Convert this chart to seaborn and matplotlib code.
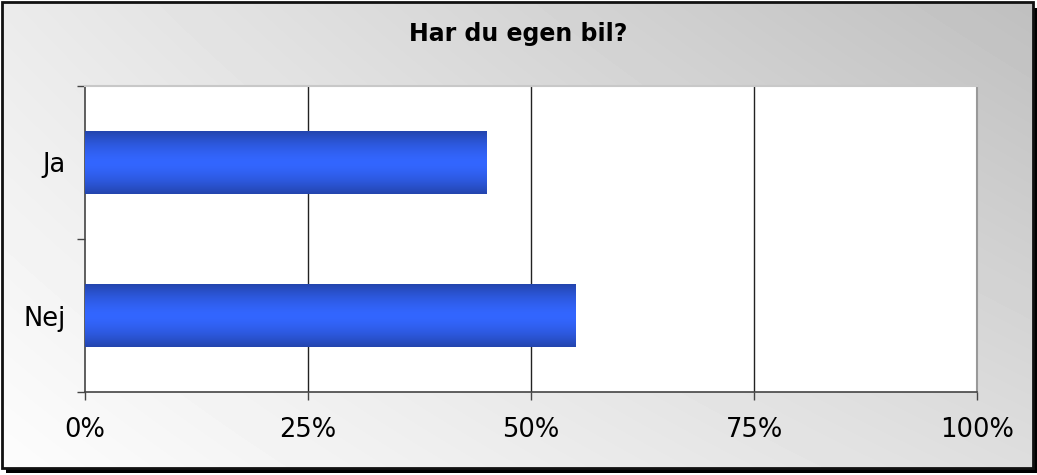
import numpy as np
import pandas as pd
import matplotlib
matplotlib.use("Agg")
import matplotlib.pyplot as plt
from matplotlib.patches import Rectangle
from matplotlib.ticker import FuncFormatter
import seaborn as sns

# Data
categories = ['Ja', 'Nej']
shares = [45, 55]  # percent
title = 'Har du egen bil?'

df = pd.DataFrame({'svar': categories, 'andel': shares})

sns.set_style('white')
plt.rcParams['font.family'] = ['DejaVu Sans']
plt.rcParams['text.color'] = 'black'

W, H = 1037, 475
fig = plt.figure(figsize=(W / 100, H / 100), dpi=100)
fig.patch.set_facecolor('white')

# Background: frame with diagonal gray gradient and drop shadow (pixel coords)
bg = fig.add_axes([0, 0, 1, 1], zorder=0)
bg.set_xlim(0, W)
bg.set_ylim(H, 0)
bg.axis('off')

x0, y0, x1, y1 = 2, 2, 1033, 468
# shadow
bg.add_patch(Rectangle((x1, y0 + 6), 4, y1 - y0 - 1, color='black', lw=0))
bg.add_patch(Rectangle((x0 + 4, y1), x1 - x0, 5, color='black', lw=0))
# gradient: bilinear between four corners
tl, tr, bl, br = 0.92, 0.75, 0.99, 0.87
u = np.linspace(0, 1, 300)
v = np.linspace(0, 1, 150)
U, V = np.meshgrid(u, v)
grad = (1 - V) * ((1 - U) * tl + U * tr) + V * ((1 - U) * bl + U * br)
bg.imshow(grad, cmap='gray', vmin=0, vmax=1, extent=(x0, x1, y1, y0),
          aspect='auto', interpolation='bilinear', zorder=1)
bg.add_patch(Rectangle((x0, y0), x1 - x0, y1 - y0, fill=False,
                       edgecolor='#111111', lw=2, zorder=2))

# Plot area
ax = fig.add_axes([85 / W, (H - 392) / H, 892 / W, 306 / H], zorder=2)
ax.set_facecolor('white')
sns.barplot(data=df, x='andel', y='svar', ax=ax, color='#3366ff',
            width=0.41, orient='h')

# Gradient fill on each bar
dark = np.array([0.14, 0.27, 0.68])
bright = np.array([0.20, 0.40, 1.00])
t = np.abs(np.linspace(-1, 1, 128))
prof = t ** 1.6
cols = bright[None, :] + (dark - bright)[None, :] * prof[:, None]
img = cols[:, None, :]
for p in ax.patches:
    bx, by = p.get_x(), p.get_y()
    bw, bh = p.get_width(), p.get_height()
    p.set_alpha(0)
    ax.imshow(img, extent=(bx, bx + bw, by + bh, by), aspect='auto',
              interpolation='bilinear', zorder=3)

ax.set_xlim(0, 100)
ax.set_ylim(1.5, -0.5)
ax.set_xticks([0, 25, 50, 75, 100])
ax.xaxis.set_major_formatter(FuncFormatter(lambda v, _: f'{v:.0f}%'))
ax.set_yticks([0, 1])
ax.set_yticks([-0.5, 0.5, 1.5], minor=True)
ax.set_xlabel('')
ax.set_ylabel('')

for xv in [25, 50, 75]:
    ax.axvline(xv, color='#222222', lw=1, zorder=2)

for side in ['left', 'bottom']:
    ax.spines[side].set_color('#444444')
    ax.spines[side].set_linewidth(1.2)
ax.spines['top'].set_color('#c8c8c8')
ax.spines['top'].set_linewidth(1.5)
ax.spines['right'].set_color('#999999')
ax.spines['right'].set_linewidth(1.5)

ax.tick_params(axis='x', which='major', direction='out', length=6,
               width=1, color='#444444', labelsize=18.5, pad=12, bottom=True,
               labelcolor='black')
ax.tick_params(axis='y', which='major', length=0, labelsize=18.5, pad=14,
               left=False, labelcolor='black')
ax.tick_params(axis='y', which='minor', direction='out', length=6,
               width=1, color='#444444', left=True)

fig.text(518 / W, 1 - 34 / H, title, ha='center', va='center',
         fontsize=17, fontweight='bold', color='black')

fig.savefig('out.png', dpi=100)
